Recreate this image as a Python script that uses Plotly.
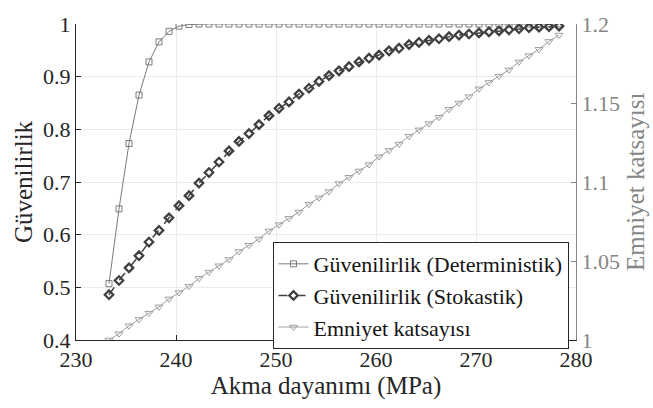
import plotly.graph_objects as go

# Yield strength (MPa)
akma = [233.3, 234.3, 235.3, 236.3, 237.3, 238.3, 239.3, 240.3, 241.3, 242.3,
        243.3, 244.3, 245.3, 246.3, 247.3, 248.3, 249.3, 250.3, 251.3, 252.3,
        253.3, 254.3, 255.3, 256.3, 257.3, 258.3, 259.3, 260.3, 261.3, 262.3,
        263.3, 264.3, 265.3, 266.3, 267.3, 268.3, 269.3, 270.3, 271.3, 272.3,
        273.3, 274.3, 275.3, 276.3, 277.3, 278.3]

# Reliability, deterministic model
guv_det = [0.507, 0.649, 0.773, 0.865, 0.928, 0.966, 0.986, 0.996, 0.999, 1.0,
           1.0, 1.0, 1.0, 1.0, 1.0, 1.0, 1.0, 1.0, 1.0, 1.0,
           1.0, 1.0, 1.0, 1.0, 1.0, 1.0, 1.0, 1.0, 1.0, 1.0,
           1.0, 1.0, 1.0, 1.0, 1.0, 1.0, 1.0, 1.0, 1.0, 1.0,
           1.0, 1.0, 1.0, 1.0, 1.0, 1.0]

# Reliability, stochastic model
guv_sto = [0.486, 0.513, 0.537, 0.560, 0.586, 0.608, 0.632, 0.655, 0.674, 0.698,
           0.718, 0.738, 0.759, 0.777, 0.792, 0.809, 0.826, 0.840, 0.852, 0.867,
           0.878, 0.891, 0.902, 0.911, 0.919, 0.928, 0.935, 0.941, 0.949, 0.954,
           0.961, 0.965, 0.969, 0.972, 0.976, 0.979, 0.981, 0.983, 0.985, 0.987,
           0.989, 0.991, 0.993, 0.994, 0.995, 0.996]

# Safety factor
emniyet = [1.000, 1.004, 1.009, 1.013, 1.017, 1.021, 1.026, 1.030, 1.034, 1.039,
           1.043, 1.047, 1.051, 1.056, 1.060, 1.064, 1.069, 1.073, 1.077, 1.081,
           1.086, 1.090, 1.094, 1.099, 1.103, 1.107, 1.111, 1.116, 1.120, 1.124,
           1.129, 1.133, 1.137, 1.141, 1.146, 1.150, 1.154, 1.159, 1.163, 1.167,
           1.171, 1.176, 1.180, 1.184, 1.189, 1.193]

x_ticks = [230, 240, 250, 260, 270, 280]
y_ticks = [0.4, 0.5, 0.6, 0.7, 0.8, 0.9, 1.0]
y_tick_text = ["0.4", "0.5", "0.6", "0.7", "0.8", "0.9", "1"]
y2_ticks = [1.0, 1.05, 1.1, 1.15, 1.2]
y2_tick_text = ["1", "1.05", "1.1", "1.15", "1.2"]

FONT = "Liberation Serif"
DARK = "#262626"
GREY = "#858585"

fig = go.Figure()

fig.add_trace(go.Scatter(
    x=akma, y=guv_det, name="Güvenilirlik (Deterministik)",
    mode="lines+markers",
    line=dict(color="#7a7a7a", width=1),
    marker=dict(symbol="square-open", size=6, color="#7a7a7a", line=dict(width=1)),
))
fig.add_trace(go.Scatter(
    x=akma, y=guv_sto, name="Güvenilirlik (Stokastik)",
    mode="lines+markers",
    line=dict(color="#404040", width=1.5, dash="dash"),
    marker=dict(symbol="diamond-open", size=6.5, color="#404040", line=dict(width=2.3)),
))
fig.add_trace(go.Scatter(
    x=akma, y=emniyet, name="Emniyet katsayısı", yaxis="y2",
    mode="lines+markers",
    line=dict(color="#a0a0a0", width=1),
    marker=dict(symbol="triangle-down-open", size=7, color="#a0a0a0", line=dict(width=1)),
))

# Right-axis title, placed just outside the tick labels
fig.add_annotation(
    text="Emniyet katsayısı", xref="paper", yref="paper",
    x=1, y=0.5, xanchor="center", yanchor="middle", xshift=59,
    textangle=-90, showarrow=False,
    font=dict(family=FONT, size=25, color=GREY),
)

fig.update_layout(
    width=653, height=408,
    margin=dict(l=76, r=77, t=15, b=68),
    paper_bgcolor="white", plot_bgcolor="white",
    font=dict(family=FONT, size=22, color=DARK),
    showlegend=True,
    legend=dict(
        x=0.985, y=0.31, xanchor="right", yanchor="top",
        bgcolor="white", bordercolor=DARK, borderwidth=1,
        font=dict(family=FONT, size=22, color="#141414"),
        tracegroupgap=0, itemwidth=30,
    ),
    xaxis=dict(
        range=[230, 280], tickvals=x_ticks,
        showgrid=True, gridcolor="#ebebeb", gridwidth=1,
        showline=True, linecolor=DARK, linewidth=1,
        ticks="inside", ticklen=5, tickcolor=DARK,
        zeroline=False, mirror=False,
        title=dict(text="Akma dayanımı (MPa)", font=dict(family=FONT, size=25, color=DARK), standoff=4),
        tickfont=dict(family=FONT, size=22, color=DARK),
    ),
    yaxis=dict(
        range=[0.4, 1.0], tickvals=y_ticks, ticktext=y_tick_text,
        showgrid=True, gridcolor="#ebebeb", gridwidth=1,
        showline=True, linecolor=DARK, linewidth=1,
        ticks="inside", ticklen=5, tickcolor=DARK,
        zeroline=False,
        title=dict(text="Güvenilirlik", font=dict(family=FONT, size=25, color=DARK), standoff=3),
        tickfont=dict(family=FONT, size=22, color=DARK),
    ),
    yaxis2=dict(
        range=[1.0, 1.2], tickvals=y2_ticks, ticktext=y2_tick_text,
        overlaying="y", side="right",
        showgrid=False,
        showline=True, linecolor=GREY, linewidth=1,
        ticks="inside", ticklen=5, tickcolor=GREY,
        zeroline=False,
        tickfont=dict(family=FONT, size=22, color=GREY),
    ),
)

fig.write_html("out.html")
